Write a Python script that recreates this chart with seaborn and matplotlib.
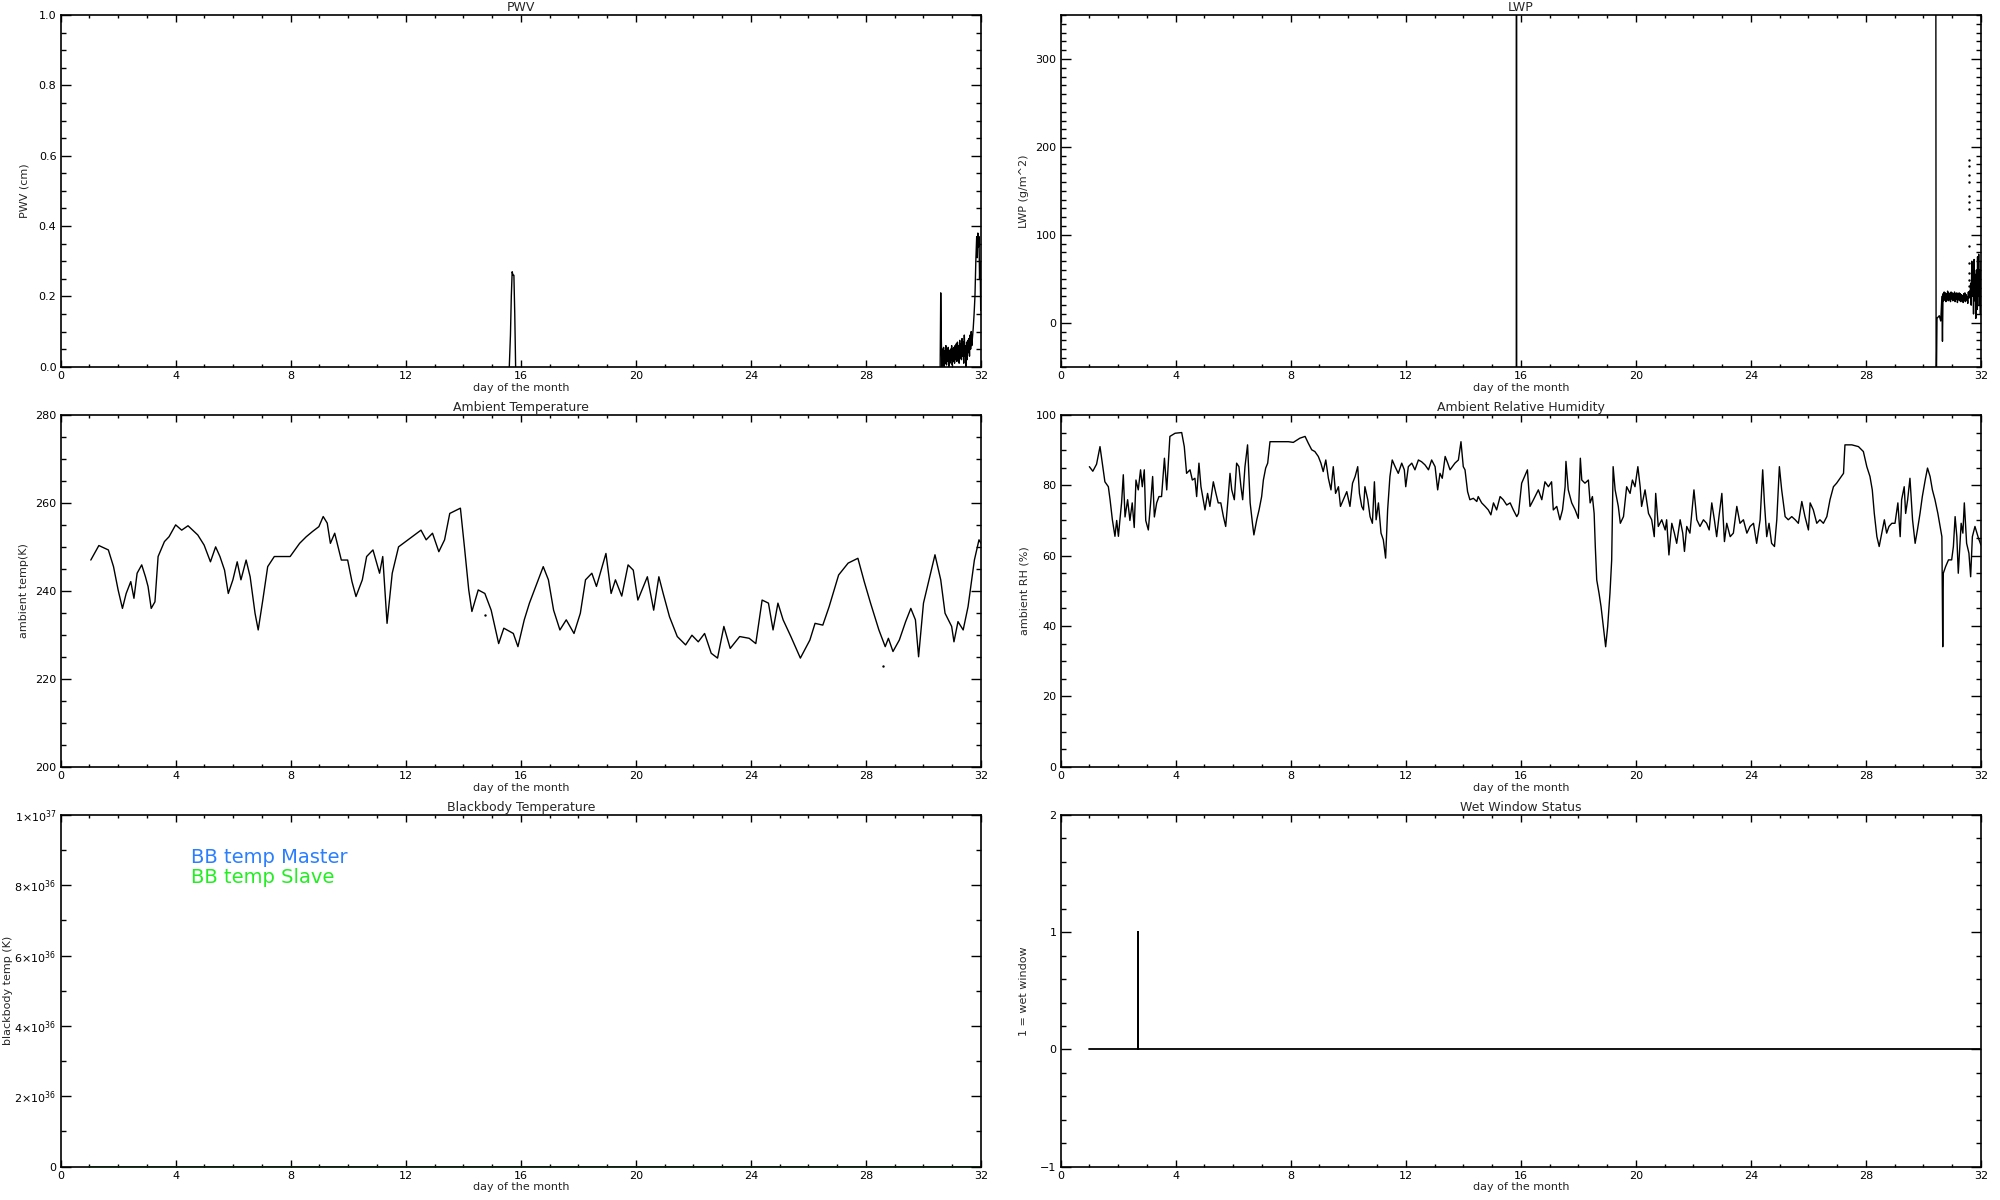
import numpy as np
import pandas as pd
import seaborn as sns
import matplotlib.pyplot as plt
from matplotlib.ticker import MultipleLocator, FixedLocator

# ---- data ----
# PWV (cm)
pwv_day_a = [15.60, 15.64, 15.67, 15.70, 15.73, 15.76, 15.79, 15.82]
pwv_val_a = [0.0, 0.09, 0.20, 0.27, 0.26, 0.26, 0.15, 0.0]
pwv_day_b = [30.58, 30.60, 30.62, 30.64, 30.66, 30.68, 30.70, 30.72, 30.74, 30.76,
             30.78, 30.80, 30.82, 30.84, 30.86, 30.88, 30.90, 30.92, 30.94, 30.96,
             30.98, 31.00, 31.02, 31.04, 31.06, 31.08, 31.10, 31.12, 31.14, 31.16,
             31.18, 31.20, 31.22, 31.24, 31.26, 31.28, 31.30, 31.32, 31.34, 31.36,
             31.38, 31.40, 31.42, 31.44, 31.46, 31.48, 31.50, 31.52, 31.54, 31.56,
             31.58, 31.60, 31.62, 31.64, 31.66, 31.68, 31.70, 31.73, 31.76, 31.79,
             31.82, 31.85, 31.87, 31.89, 31.91, 31.93, 31.95, 31.97, 31.99, 32.0]
pwv_val_b = [0.0, 0.21, 0.08, 0.0, 0.05, 0.01, 0.055, 0.0, 0.045, 0.01,
             0.06, 0.005, 0.05, 0.015, 0.055, 0.0, 0.045, 0.01, 0.05, 0.02,
             0.06, 0.005, 0.05, 0.015, 0.055, 0.01, 0.06, 0.02, 0.065, 0.015,
             0.07, 0.02, 0.06, 0.01, 0.075, 0.025, 0.065, 0.02, 0.08, 0.03,
             0.07, 0.01, 0.09, 0.03, 0.06, 0.0, 0.07, 0.02, 0.075, 0.04,
             0.08, 0.03, 0.09, 0.05, 0.10, 0.06, 0.08, 0.11, 0.15, 0.20,
             0.30, 0.37, 0.31, 0.38, 0.34, 0.37, 0.25, 0.30, 0.16, 0.22]

# LWP (g/m^2)
lwp_day_a = [15.848, 15.850, 15.852, 15.853]
lwp_val_a = [-100, 900, 40, -100]
lwp_day_b = [30.42, 30.44, 30.47, 30.55, 30.60, 30.64, 30.66, 30.68, 30.70, 30.72,
             30.74, 30.76, 30.78, 30.80, 30.82, 30.84, 30.86, 30.88, 30.90, 30.92,
             30.94, 30.96, 30.98, 31.00, 31.02, 31.04, 31.06, 31.08, 31.10, 31.12,
             31.14, 31.16, 31.18, 31.20, 31.22, 31.24, 31.26, 31.28, 31.30, 31.32,
             31.34, 31.36, 31.38, 31.40, 31.42, 31.44, 31.46, 31.48, 31.50, 31.52,
             31.54, 31.56, 31.58, 31.60, 31.62, 31.64, 31.66, 31.68, 31.70, 31.72,
             31.74, 31.76, 31.78, 31.80, 31.82, 31.84, 31.86, 31.88, 31.90, 31.92,
             31.94, 31.96, 31.98, 32.0]
lwp_val_b = [900, -100, 5, 8, 2, 30, -21, 33, 25, 35,
             26, 34, 24, 33, 27, 36, 25, 34, 26, 33,
             24, 35, 27, 34, 25, 33, 26, 35, 24, 33,
             27, 34, 23, 32, 26, 34, 25, 33, 24, 32,
             27, 31, 23, 33, 25, 34, 24, 32, 26, 30,
             22, 35, 28, 36, 30, 45, 20, 70, 30, 65,
             10, 72, 25, 55, 5, 60, 15, 75, 30, 78,
             20, 60, 10, 70]
lwp_dot_day = [31.59] * 12
lwp_dot_val = [185, 178, 168, 160, 144, 137, 129, 87, 68, 57, 49, 42]

# Ambient temperature (K)
temp_day = [1.05, 1.33, 1.66, 1.84, 2.0, 2.15, 2.28, 2.44, 2.55, 2.66,
            2.82, 2.95, 3.04, 3.15, 3.28, 3.39, 3.61, 3.77, 4.0, 4.21,
            4.43, 4.77, 4.99, 5.21, 5.39, 5.54, 5.70, 5.83, 5.99, 6.14,
            6.27, 6.45, 6.59, 6.76, 6.87, 7.03, 7.2, 7.43, 7.98, 8.31,
            8.54, 8.76, 8.98, 9.13, 9.27, 9.38, 9.53, 9.76, 9.98, 10.13,
            10.27, 10.49, 10.64, 10.86, 11.09, 11.2, 11.35, 11.53, 11.75, 12.08,
            12.53, 12.71, 12.93, 13.15, 13.35, 13.53, 13.9, 14.04, 14.19, 14.3,
            14.52, 14.75, 14.97, 15.23, 15.41, 15.74, 15.9, 16.12, 16.3, 16.52,
            16.78, 16.96, 17.14, 17.36, 17.58, 17.85, 18.07, 18.25, 18.47, 18.63,
            18.96, 19.14, 19.29, 19.51, 19.73, 19.91, 20.07, 20.4, 20.62, 20.8,
            20.95, 21.17, 21.44, 21.73, 21.95, 22.17, 22.39, 22.62, 22.84, 23.06,
            23.28, 23.61, 23.94, 24.17, 24.39, 24.61, 24.77, 24.94, 25.12, 25.39,
            25.72, 26.05, 26.23, 26.5, 26.72, 27.05, 27.38, 27.72, 27.94, 28.16,
            28.45, 28.67, 28.78, 28.94, 29.16, 29.38, 29.56, 29.72, 29.83, 30.0,
            30.22, 30.4, 30.6, 30.75, 30.98, 31.06, 31.2, 31.38, 31.55, 31.77,
            31.93, 32.0]
temp_val = [247, 250.3, 249.3, 245.5, 240.2, 236, 239.4, 242.1, 238.3, 244,
            245.9, 243.2, 241, 236, 237.5, 247.8, 251.2, 252.3, 255, 253.8,
            254.8, 252.7, 250.4, 246.6, 250, 247.8, 244.7, 239.4, 242.5, 246.6,
            242.5, 247, 243.2, 234.9, 231.1, 237.9, 245.5, 247.8, 247.8, 250.8,
            252.3, 253.5, 254.6, 256.9, 255.4, 250.8, 253.1, 247, 247, 242.1,
            238.7, 242.5, 247.8, 249.3, 244, 247.8, 232.6, 244, 250, 251.6,
            253.8, 251.6, 253.1, 248.9, 251.6, 257.6, 258.8, 250, 240.2, 235.3,
            240.2, 239.4, 235.6, 228, 231.5, 230.3, 227.3, 233.4, 237.2, 241,
            245.5, 242.5, 235.6, 231.1, 233.4, 230.3, 234.9, 242.5, 244, 241,
            248.5, 239.4, 242.5, 238.8, 245.9, 244.7, 237.9, 243.2, 235.6, 243.2,
            239.4, 234.1, 229.6, 227.7, 229.9, 228.4, 230.3, 225.8, 224.7, 231.9,
            226.9, 229.6, 229.2, 228, 237.9, 237.2, 231.1, 237.2, 233.4, 229.6,
            224.7, 228.8, 232.6, 232.2, 236.4, 243.6, 246.3, 247.4, 242.1, 237.2,
            231.1, 227.3, 229.2, 226.2, 228.8, 233, 236, 233.4, 225, 237.2,
            243.2, 248.2, 242.5, 234.9, 231.9, 228.4, 233, 231.1, 236.4, 247,
            251.6, 250.8]
temp_dot_day = [14.76, 28.6]
temp_dot_val = [234.6, 222.9]

# Ambient relative humidity (%)
rh_day = [1.00, 1.12, 1.25, 1.37, 1.49, 1.54, 1.66, 1.72, 1.80, 1.89,
          1.95, 2.01, 2.06, 2.12, 2.18, 2.24, 2.33, 2.41, 2.49, 2.56,
          2.62, 2.70, 2.78, 2.84, 2.91, 2.96, 3.05, 3.13, 3.20, 3.26,
          3.34, 3.42, 3.51, 3.61, 3.69, 3.80, 3.98, 4.21, 4.30, 4.38,
          4.50, 4.58, 4.67, 4.73, 4.81, 4.88, 4.96, 5.02, 5.11, 5.19,
          5.31, 5.40, 5.48, 5.57, 5.66, 5.74, 5.81, 5.89, 5.95, 6.04,
          6.12, 6.20, 6.27, 6.33, 6.41, 6.50, 6.59, 6.67, 6.72, 6.82,
          6.90, 6.99, 7.05, 7.13, 7.20, 7.28, 7.92, 8.09, 8.32, 8.50,
          8.61, 8.73, 8.84, 8.96, 9.05, 9.13, 9.22, 9.31, 9.40, 9.48,
          9.56, 9.66, 9.73, 9.83, 9.95, 10.06, 10.15, 10.24, 10.33, 10.39,
          10.47, 10.53, 10.58, 10.68, 10.76, 10.84, 10.91, 10.97, 11.05, 11.14,
          11.22, 11.30, 11.37, 11.45, 11.53, 11.63, 11.74, 11.86, 11.95, 12.00,
          12.09, 12.21, 12.32, 12.44, 12.55, 12.67, 12.79, 12.90, 13.02, 13.11,
          13.19, 13.27, 13.37, 13.46, 13.54, 13.62, 13.71, 13.83, 13.92, 14.00,
          14.06, 14.15, 14.23, 14.35, 14.47, 14.52, 14.64, 14.76, 14.87, 14.96,
          15.05, 15.16, 15.28, 15.39, 15.51, 15.63, 15.74, 15.86, 15.92, 16.03,
          16.23, 16.32, 16.44, 16.61, 16.73, 16.84, 16.96, 17.07, 17.13, 17.25,
          17.36, 17.45, 17.54, 17.57, 17.65, 17.77, 17.89, 18.00, 18.07, 18.12,
          18.23, 18.35, 18.41, 18.49, 18.55, 18.59, 18.64, 18.72, 18.79, 18.87,
          18.95, 19.02, 19.10, 19.16, 19.21, 19.28, 19.39, 19.46, 19.57, 19.68,
          19.80, 19.88, 19.97, 20.07, 20.15, 20.20, 20.32, 20.44, 20.55, 20.64,
          20.69, 20.78, 20.90, 21.02, 21.07, 21.15, 21.25, 21.34, 21.42, 21.54,
          21.63, 21.69, 21.77, 21.88, 22.02, 22.12, 22.23, 22.35, 22.46, 22.55,
          22.64, 22.73, 22.81, 22.89, 22.99, 23.08, 23.16, 23.28, 23.39, 23.51,
          23.62, 23.74, 23.86, 23.97, 24.09, 24.20, 24.32, 24.41, 24.47, 24.55,
          24.63, 24.72, 24.82, 24.90, 24.99, 25.07, 25.19, 25.30, 25.42, 25.54,
          25.65, 25.77, 25.88, 26.00, 26.06, 26.17, 26.29, 26.40, 26.52, 26.64,
          26.75, 26.87, 26.98, 27.10, 27.22, 27.27, 27.51, 27.74, 27.91, 28.03,
          28.14, 28.22, 28.29, 28.38, 28.46, 28.55, 28.64, 28.72, 28.80, 28.90,
          29.01, 29.11, 29.19, 29.24, 29.33, 29.38, 29.45, 29.53, 29.62, 29.71,
          29.79, 29.88, 29.96, 30.06, 30.14, 30.23, 30.31, 30.40, 30.50, 30.58,
          30.64, 30.67, 30.69, 30.77, 30.87, 30.98, 31.04, 31.10, 31.16, 31.21,
          31.31, 31.37, 31.42, 31.50, 31.58, 31.64, 31.70, 31.79, 31.91, 32.0]
rh_val = [85.3, 84, 86, 91, 84, 81, 79.6, 75.9, 70.2, 65.5,
          70, 65.5, 70, 75, 83, 71, 75.9, 70, 75, 68,
          81.5, 78.7, 84.4, 79.6, 84.4, 70, 67.3, 75, 82.5, 71,
          75, 76.8, 76.8, 87.7, 78.7, 93.9, 94.8, 95, 91, 83.4,
          84.4, 81.5, 82, 76.8, 86.3, 79.6, 75.9, 73, 77.7, 74,
          81, 77.7, 75, 75, 71.1, 68.3, 75, 83.4, 78.7, 75.9,
          86.3, 85.3, 79.6, 75.9, 85.3, 91.5, 75, 69.2, 65.9, 70.2,
          73, 76.8, 81.5, 84.9, 86.3, 92.4, 92.4, 92.2, 93.4, 93.9,
          92, 90.1, 89.6, 88.2, 86.3, 83.9, 87.2, 82, 78.7, 85.3,
          77.7, 79.6, 74, 75.9, 78.2, 74, 80.6, 82.5, 85.3, 77.7,
          74, 73, 79.6, 75.9, 71.1, 69.2, 81, 70.2, 75, 66.4,
          64.5, 59.3, 73, 82.5, 87.2, 85.3, 83.4, 86.3, 84.4, 79.6,
          85.3, 86.3, 84.4, 87.2, 86.7, 85.8, 84.4, 87.2, 85.3, 78.7,
          83.4, 82, 88.2, 86.3, 84.4, 85.3, 86.3, 87.2, 92.4, 85.3,
          84.4, 78.2, 75.9, 76.3, 75.4, 76.8, 75, 74, 73, 71.6,
          75, 73, 76.8, 75.9, 74.4, 75, 73, 71.1, 72, 80.6,
          84.4, 74, 75.9, 78.7, 75.9, 81, 79.6, 81, 73, 74,
          70.2, 73, 79.6, 86.8, 78.7, 75, 73, 70.6, 87.7, 81.5,
          80.6, 81.5, 75, 76.8, 72, 62.6, 53.1, 49.3, 45.5, 39.8,
          34.1, 39.8, 49.3, 58.8, 85.3, 78.7, 74, 69.2, 71.1, 79.6,
          77.7, 81.5, 79.6, 85.3, 79.6, 74, 78.7, 72, 70.2, 65.4,
          77.7, 68.3, 70.2, 67.3, 70.2, 60.2, 69.2, 66.4, 63.5, 70.2,
          66.4, 61.2, 68.3, 66.4, 78.7, 70.2, 68.3, 70.2, 69.2, 67.3,
          75, 70.2, 65.4, 71.1, 77.7, 64, 69.2, 65.4, 66.4, 74,
          69.2, 70.2, 66.4, 68.3, 69.2, 63.5, 70.2, 84.4, 75, 65.4,
          69.2, 63.5, 62.6, 70.2, 85.3, 78.7, 71.1, 70.2, 71.1, 70.2,
          69.2, 75.4, 71.1, 67.3, 75, 73, 69.2, 70.2, 69.2, 71.1,
          75.9, 79.6, 80.6, 82, 83.4, 91.5, 91.5, 91, 89.6, 85.3,
          82.5, 78.7, 72, 65.4, 62.6, 66.4, 70.2, 66.4, 68.3, 69.2,
          69.2, 75, 65.4, 75.9, 79.6, 72, 75.9, 82, 70.2, 63.5,
          67.3, 72, 76.8, 81.5, 84.9, 82.5, 78.7, 75.9, 72, 68.3,
          65.4, 34.1, 55, 56.9, 58.8, 58.8, 62.6, 71.1, 65.4, 55,
          69.2, 66.4, 75, 63.5, 60.7, 54, 65.4, 68.3, 65, 63]

# Blackbody temperature (K): both flat at zero
bb_day = [1.0, 32.0]
bb_master = [0.0, 0.0]
bb_slave = [0.0, 0.0]

# Wet window status
ww_day = [1.0, 2.68, 2.68, 2.68, 32.0]
ww_val = [0, 0, 1, 0, 0]

bb_ticks = [0, 2e36, 4e36, 6e36, 8e36, 1e37]
bb_ticklabels = ['0', r'$2{\times}10^{36}$', r'$4{\times}10^{36}$',
                 r'$6{\times}10^{36}$', r'$8{\times}10^{36}$', r'$1{\times}10^{37}$']

# ---- figure ----
sns.set_theme(style="ticks")
plt.rcParams['font.family'] = ['DejaVu Sans']
plt.rcParams['axes.edgecolor'] = 'black'

fig = plt.figure(figsize=(20, 12), dpi=100)
col_l = [0.0303, 0.5303]
row_b = [0.6944, 0.3611, 0.0278]
w, h = 0.4602, 0.2931


def style(ax, title, ylabel, ylim, ymaj, ymin, ylab_x=-0.034):
    ax.set_xlim(0, 32)
    ax.set_ylim(*ylim)
    ax.xaxis.set_major_locator(MultipleLocator(4))
    ax.xaxis.set_minor_locator(MultipleLocator(1))
    if ymaj is not None:
        ax.yaxis.set_major_locator(MultipleLocator(ymaj))
        ax.yaxis.set_minor_locator(MultipleLocator(ymin))
    ax.tick_params(which='both', direction='in', top=True, right=True,
                   bottom=True, left=True, colors='black', labelsize=8, width=1)
    ax.tick_params(axis='x', which='major', length=5, pad=3)
    ax.tick_params(axis='x', which='minor', length=2.5)
    ax.tick_params(axis='y', which='major', length=7, pad=3)
    ax.tick_params(axis='y', which='minor', length=3.5)
    for s in ax.spines.values():
        s.set_visible(True)
        s.set_color('black')
        s.set_linewidth(1.2)
    ax.set_title(title, fontsize=9, pad=3)
    ax.set_xlabel('day of the month', fontsize=8)
    ax.set_ylabel(ylabel, fontsize=8)
    ax.xaxis.set_label_coords(0.5, -0.045)
    ax.yaxis.set_label_coords(ylab_x, 0.5)


line_kw = dict(color='black', linewidth=1.0, estimator=None, sort=False)

# PWV
ax = fig.add_axes([col_l[0], row_b[0], w, h])
sns.lineplot(x=pwv_day_a, y=pwv_val_a, ax=ax, **line_kw)
sns.lineplot(x=pwv_day_b, y=pwv_val_b, ax=ax, **line_kw)
style(ax, 'PWV', 'PWV (cm)', (0, 1.0), 0.2, 0.05)
ax.yaxis.set_major_formatter(plt.FormatStrFormatter('%.1f'))

# LWP
ax = fig.add_axes([col_l[1], row_b[0], w, h])
sns.lineplot(x=lwp_day_a, y=lwp_val_a, ax=ax, **line_kw)
sns.lineplot(x=lwp_day_b, y=lwp_val_b, ax=ax, **line_kw)
sns.scatterplot(x=lwp_dot_day, y=lwp_dot_val, ax=ax, color='black', s=3, linewidth=0)
style(ax, 'LWP', 'LWP (g/m^2)', (-50, 350), 100, 10)

# Ambient temperature
ax = fig.add_axes([col_l[0], row_b[1], w, h])
sns.lineplot(x=temp_day, y=temp_val, ax=ax, **line_kw)
sns.scatterplot(x=temp_dot_day, y=temp_dot_val, ax=ax, color='black', s=3, linewidth=0)
style(ax, 'Ambient Temperature', 'ambient temp(K)', (200, 280), 20, 5)

# Ambient RH
ax = fig.add_axes([col_l[1], row_b[1], w, h])
sns.lineplot(x=rh_day, y=rh_val, ax=ax, **line_kw)
style(ax, 'Ambient Relative Humidity', 'ambient RH (%)', (0, 100), 20, 5)

# Blackbody temperature
ax = fig.add_axes([col_l[0], row_b[2], w, h])
sns.lineplot(x=bb_day, y=bb_master, ax=ax, color='#2a7fff', linewidth=2.0,
             estimator=None, sort=False)
sns.lineplot(x=bb_day, y=bb_slave, ax=ax, color='#22ee22', linewidth=2.0,
             estimator=None, sort=False)
style(ax, 'Blackbody Temperature', 'blackbody temp (K)', (0, 1e37), None, None,
      ylab_x=-0.052)
ax.yaxis.set_major_locator(FixedLocator(bb_ticks))
ax.yaxis.set_minor_locator(MultipleLocator(1e36))
ax.set_yticklabels(bb_ticklabels)
ax.yaxis.get_offset_text().set_visible(False)
ax.text(4.53, 8.8e36, 'BB temp Master', color='#2a7fff', fontsize=14, va='center')
ax.text(4.53, 8.23e36, 'BB temp Slave', color='#22ee22', fontsize=14, va='center')

# Wet window
ax = fig.add_axes([col_l[1], row_b[2], w, h])
sns.lineplot(x=ww_day, y=ww_val, ax=ax, color='black', linewidth=1.3,
             estimator=None, sort=False)
style(ax, 'Wet Window Status', '1 = wet window', (-1, 2), 1, 0.2)

fig.savefig('out.png', dpi=100, facecolor='white')
